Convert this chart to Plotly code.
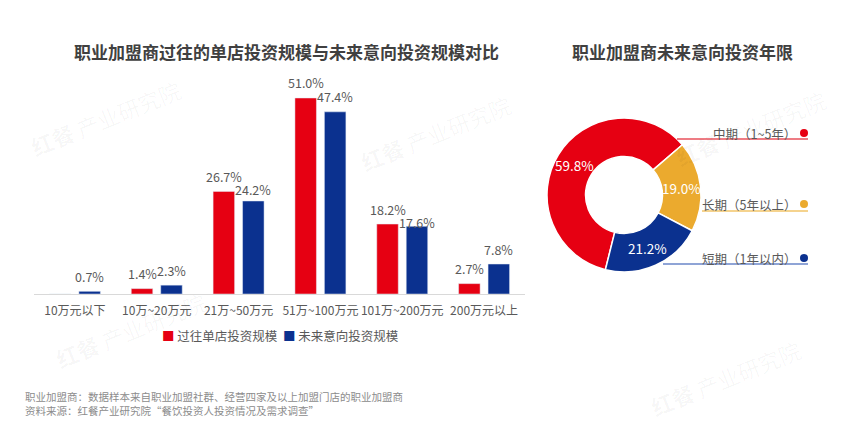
import math
import plotly.graph_objects as go

# ---------------- data ----------------
categories = ["10万元以下", "10万~20万元", "21万~50万元", "51万~100万元", "101万~200万元", "200万元以上"]
past_values = [0.0, 1.4, 26.7, 51.0, 18.2, 2.7]
future_values = [0.7, 2.3, 24.2, 47.4, 17.6, 7.8]
series_names = ["过往单店投资规模", "未来意向投资规模"]

pie_labels = ["中期（1~5年）", "长期（5年以上）", "短期（1年以内）"]
pie_values = [59.8, 19.0, 21.2]

bar_title = "职业加盟商过往的单店投资规模与未来意向投资规模对比"
pie_title = "职业加盟商未来意向投资年限"
footer_lines = [
    "职业加盟商：数据样本来自职业加盟社群、经营四家及以上加盟门店的职业加盟商",
    "资料来源：红餐产业研究院“餐饮投资人投资情况及需求调查”",
]

# ---------------- style ----------------
OFF = 8                      # default page body margin
W, H = 850 - OFF, 422 - OFF
RED = "#E60012"
BLUE = "#0B318F"
YELLOW = "#EBAA2E"
pie_colors = [RED, YELLOW, BLUE]
line_colors = ["#E8505B", "#F2C468", "#6A86C8"]
FONT = "Noto Sans CJK SC"
TXT = "#595959"

PIE_CX, PIE_CY, PIE_R, HOLE = 624, 195, 77, 0.5
PIE_ROT = 194
SLOT = 29.5                  # px between the centres of the two bars in a group
PLOT_TOP, PLOT_BOTTOM, Y_MAX = 63.4, 294, 60
PPU = (PLOT_BOTTOM - PLOT_TOP) / Y_MAX   # pixels per percentage unit
LABEL_GAP = 15                           # label centre above bar top (px)
LINE_STEP = 13                           # min vertical distance between colliding labels


def px(x):
    return (x - OFF) / W


def py(y):
    return 1 - (y - OFF) / H


fig = go.Figure()

fig.add_trace(go.Bar(
    x=categories, y=past_values, name=series_names[0],
    marker=dict(color=RED), showlegend=False, hoverinfo="x+y",
))
fig.add_trace(go.Bar(
    x=categories, y=future_values, name=series_names[1],
    marker=dict(color=BLUE), showlegend=False, hoverinfo="x+y",
))

fig.add_trace(go.Pie(
    labels=pie_labels, values=pie_values, hole=HOLE, sort=False,
    direction="clockwise", rotation=PIE_ROT,
    marker=dict(colors=pie_colors, line=dict(color="white", width=1.5)),
    textinfo="none",
    domain=dict(x=[px(PIE_CX - PIE_R), px(PIE_CX + PIE_R)],
                y=[py(PIE_CY + PIE_R), py(PIE_CY - PIE_R)]),
    showlegend=False,
))

annotations = []
# watermarks
for (cx, cy) in [(105, 118), (435, 133), (750, 128), (130, 330), (725, 378)]:
    annotations.append(dict(
        x=px(cx), y=py(cy), xref="paper", yref="paper", showarrow=False,
        xanchor="center", yanchor="middle",
        text="<b>红餐</b> 产业研究院", textangle=-22,
        font=dict(size=22, color="rgba(0,0,0,0.035)", family=FONT),
    ))

# bar value labels (the blue label is pushed below the red one when they would collide)
for c, vr, vb in zip(categories, past_values, future_values):
    tr, tb = f"{vr:.1f}%", f"{vb:.1f}%"
    h_r = vr * PPU + LABEL_GAP
    h_b = vb * PPU + LABEL_GAP
    collide = vr > 0 and (len(tr) + len(tb)) * 7 / 2 > SLOT
    if collide and h_b > h_r - LINE_STEP:
        h_b = h_r - LINE_STEP
    items = [(vb, tb, h_b, SLOT / 2)]
    if vr > 0:
        items.append((vr, tr, h_r, -SLOT / 2))
    for v, t, h, xs in items:
        annotations.append(dict(x=c, y=v, xref="x", yref="y", showarrow=False,
                                xanchor="center", yanchor="middle", xshift=xs,
                                yshift=h - v * PPU, borderpad=0,
                                text=t, font=dict(size=12.5, color=TXT, family=FONT)))

annotations.append(dict(x=px(286), y=py(51), xref="paper", yref="paper", showarrow=False,
                        xanchor="center", yanchor="middle",
                        text=f"<b>{bar_title}</b>", font=dict(size=17, color="#404040", family=FONT)))
annotations.append(dict(x=px(682), y=py(51), xref="paper", yref="paper", showarrow=False,
                        xanchor="center", yanchor="middle",
                        text=f"<b>{pie_title}</b>", font=dict(size=17, color="#404040", family=FONT)))
for i, line in enumerate(footer_lines):
    annotations.append(dict(x=px(23), y=py(396 + 14 * i), xref="paper", yref="paper", showarrow=False,
                            xanchor="left", yanchor="middle",
                            text=line, font=dict(size=10.5, color="#8c8c8c", family=FONT)))

# manual legend for the bar chart
legend_text = "  ".join(
    f"<span style='color:{c}'>■</span> {n}" for c, n in zip([RED, BLUE], series_names)
)
annotations.append(dict(x=px(280), y=py(335), xref="paper", yref="paper", showarrow=False,
                        xanchor="center", yanchor="middle", text=legend_text,
                        font=dict(size=12.5, color=TXT, family=FONT)))

# pie value labels at slice mid-angles
total = sum(pie_values)
start = PIE_ROT
r_mid = PIE_R * (1 + HOLE) / 2
for v in pie_values:
    span = 360 * v / total
    mid = math.radians(start + span / 2)
    start += span
    lx = PIE_CX + r_mid * math.sin(mid)
    ly = PIE_CY - r_mid * math.cos(mid)
    annotations.append(dict(x=px(lx), y=py(ly), xref="paper", yref="paper", showarrow=False,
                            xanchor="center", yanchor="middle", text=f"{v:.1f}%",
                            font=dict(size=13.5, color="white", family=FONT)))

shapes = []
label_y = [133, 204, 258]
line_y = [139, 211, 264]
line_x0 = [677, 702, 663]
for i, lab in enumerate(pie_labels):
    annotations.append(dict(x=px(798), y=py(label_y[i]), xref="paper", yref="paper", showarrow=False,
                            xanchor="right", yanchor="middle",
                            text=lab, font=dict(size=12.5, color=TXT, family=FONT)))
    shapes.append(dict(type="line", xref="paper", yref="paper",
                       x0=px(line_x0[i]), x1=px(808), y0=py(line_y[i]), y1=py(line_y[i]),
                       line=dict(color=line_colors[i], width=1.5)))
    shapes.append(dict(type="circle", xref="paper", yref="paper",
                       x0=px(800), x1=px(808), y0=py(label_y[i] + 4), y1=py(label_y[i] - 4),
                       fillcolor=pie_colors[i], line=dict(width=0)))

fig.update_layout(
    width=W, height=H, margin=dict(l=0, r=0, t=0, b=0),
    paper_bgcolor="white", plot_bgcolor="white",
    font=dict(family=FONT, color=TXT),
    barmode="group", bargap=0.28, bargroupgap=0.27,
    showlegend=False,
    xaxis=dict(domain=[px(34), px(525)], showline=True, linecolor="#d9d9d9", linewidth=1,
               ticks="", tickangle=0, tickfont=dict(size=12, color=TXT, family=FONT), showgrid=False,
               ticklabelstandoff=6, fixedrange=True),
    yaxis=dict(domain=[py(PLOT_BOTTOM), py(PLOT_TOP)], range=[0, Y_MAX], visible=False,
               showgrid=False, fixedrange=True),
    annotations=annotations, shapes=shapes,
)

fig.write_html("out.html", config={"displayModeBar": False})
